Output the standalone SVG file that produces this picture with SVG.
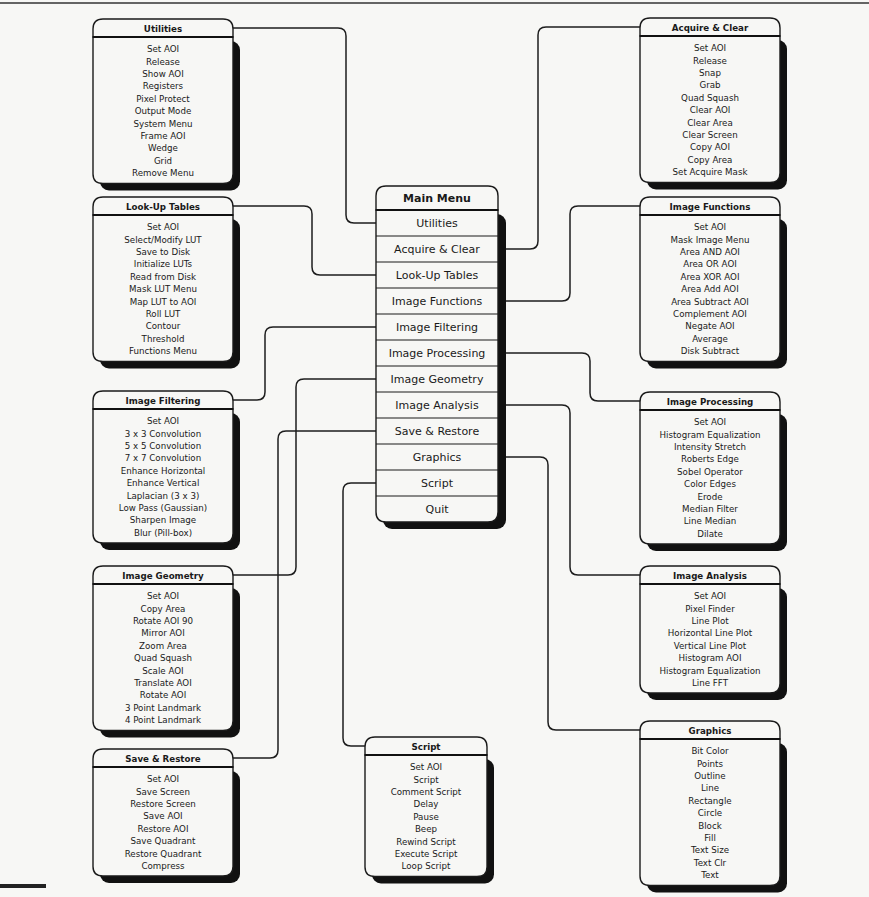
<svg xmlns="http://www.w3.org/2000/svg" width="869" height="897" viewBox="0 0 869 897">
<defs>
<style>
.bg{fill:#f7f7f5}
.box{fill:#f7f7f5;stroke:#1a1a1a;stroke-width:1.4}
.sh{fill:#111}
.sep{stroke:#111;stroke-width:2}
.row{stroke:#1a1a1a;stroke-width:1.2}
.c{fill:none;stroke:#1e1e1e;stroke-width:1.5}
text{font-family:"DejaVu Sans","Liberation Sans",Arial,sans-serif;font-size:8.7px;fill:#1a1a1a;text-anchor:middle}
.h{font-weight:bold;font-size:8.7px}
.m{font-size:11px}
.mh{font-size:11px;font-weight:bold}
</style>
</defs>
<rect class="bg" x="0" y="0" width="869" height="897"/>
<line x1="0" y1="3" x2="869" y2="3" stroke="#333" stroke-width="1.5"/>
<rect x="0" y="884" width="46" height="4" fill="#222"/>

<g id="connectors">
<path class="c" d="M233,28 H338 Q346,28 346,36 V215 Q346,223 354,223 H376"/>
<path class="c" d="M505,249 H530 Q538,249 538,241 V35 Q538,27 546,27 H640"/>
<path class="c" d="M233,206 H304 Q312,206 312,214 V267 Q312,275 320,275 H376"/>
<path class="c" d="M505,301 H562 Q570,301 570,293 V214 Q570,206 578,206 H640"/>
<path class="c" d="M233,400 H257 Q265,400 265,392 V335 Q265,327 273,327 H376"/>
<path class="c" d="M505,353 H582 Q590,353 590,361 V393 Q590,401 598,401 H640"/>
<path class="c" d="M376,379 H304 Q296,379 296,387 V567 Q296,575 288,575 H233"/>
<path class="c" d="M505,405 H562 Q570,405 570,413 V567 Q570,575 578,575 H640"/>
<path class="c" d="M376,431 H286 Q278,431 278,439 V750 Q278,758 270,758 H233"/>
<path class="c" d="M505,457 H540 Q548,457 548,465 V722 Q548,730 556,730 H640"/>
<path class="c" d="M376,483 H351 Q343,483 343,491 V738 Q343,746 351,746 H365"/>
</g>

<g id="main-menu">
<rect class="sh" x="383" y="214" width="123" height="315" rx="9"/>
<path class="box" d="M376,210 V196 Q376,186 386,186 H488 Q498,186 498,196 V210 Z"/>
<path class="box" d="M376,210 V512 Q376,522 386,522 H488 Q498,522 498,512 V210 Z"/>
<line class="sep" x1="376" y1="210" x2="498" y2="210"/>
<line class="row" x1="376" y1="236" x2="498" y2="236"/>
<line class="row" x1="376" y1="262" x2="498" y2="262"/>
<line class="row" x1="376" y1="288" x2="498" y2="288"/>
<line class="row" x1="376" y1="314" x2="498" y2="314"/>
<line class="row" x1="376" y1="340" x2="498" y2="340"/>
<line class="row" x1="376" y1="366" x2="498" y2="366"/>
<line class="row" x1="376" y1="392" x2="498" y2="392"/>
<line class="row" x1="376" y1="418" x2="498" y2="418"/>
<line class="row" x1="376" y1="444" x2="498" y2="444"/>
<line class="row" x1="376" y1="470" x2="498" y2="470"/>
<line class="row" x1="376" y1="496" x2="498" y2="496"/>
<text class="mh" x="437" y="202">Main Menu</text>
<text class="m" x="437" y="227">Utilities</text>
<text class="m" x="437" y="253">Acquire &amp; Clear</text>
<text class="m" x="437" y="279">Look-Up Tables</text>
<text class="m" x="437" y="305">Image Functions</text>
<text class="m" x="437" y="331">Image Filtering</text>
<text class="m" x="437" y="357">Image Processing</text>
<text class="m" x="437" y="383">Image Geometry</text>
<text class="m" x="437" y="409">Image Analysis</text>
<text class="m" x="437" y="435">Save &amp; Restore</text>
<text class="m" x="437" y="461">Graphics</text>
<text class="m" x="437" y="487">Script</text>
<text class="m" x="437" y="513">Quit</text>
</g>

<g id="utilities">
<rect class="sh" x="100" y="41" width="140" height="149.5" rx="9"/>
<path class="box" d="M93,37 V29 Q93,19 103,19 H223 Q233,19 233,29 V37 Z"/>
<path class="box" d="M93,37 V174 Q93,183.5 103,183.5 H223 Q233,183.5 233,174 V37 Z"/>
<line class="sep" x1="93" y1="37" x2="233" y2="37"/>
<text class="h" x="163" y="31.5">Utilities</text>
<text x="163" y="52.2">Set AOI</text>
<text x="163" y="64.6">Release</text>
<text x="163" y="77">Show AOI</text>
<text x="163" y="89.4">Registers</text>
<text x="163" y="101.8">Pixel Protect</text>
<text x="163" y="114.2">Output Mode</text>
<text x="163" y="126.6">System Menu</text>
<text x="163" y="139">Frame AOI</text>
<text x="163" y="151.4">Wedge</text>
<text x="163" y="163.8">Grid</text>
<text x="163" y="176.2">Remove Menu</text>
</g>

<g id="look-up-tables">
<rect class="sh" x="100" y="219" width="140" height="149.5" rx="9"/>
<path class="box" d="M93,215 V207 Q93,197 103,197 H223 Q233,197 233,207 V215 Z"/>
<path class="box" d="M93,215 V352 Q93,361.5 103,361.5 H223 Q233,361.5 233,352 V215 Z"/>
<line class="sep" x1="93" y1="215" x2="233" y2="215"/>
<text class="h" x="163" y="209.5">Look-Up Tables</text>
<text x="163" y="230.2">Set AOI</text>
<text x="163" y="242.6">Select/Modify LUT</text>
<text x="163" y="255">Save to Disk</text>
<text x="163" y="267.4">Initialize LUTs</text>
<text x="163" y="279.8">Read from Disk</text>
<text x="163" y="292.2">Mask LUT Menu</text>
<text x="163" y="304.6">Map LUT to AOI</text>
<text x="163" y="317">Roll LUT</text>
<text x="163" y="329.4">Contour</text>
<text x="163" y="341.8">Threshold</text>
<text x="163" y="354.2">Functions Menu</text>
</g>

<g id="image-filtering">
<rect class="sh" x="100" y="413" width="140" height="137" rx="9"/>
<path class="box" d="M93,409 V401 Q93,391 103,391 H223 Q233,391 233,401 V409 Z"/>
<path class="box" d="M93,409 V533.5 Q93,543 103,543 H223 Q233,543 233,533.5 V409 Z"/>
<line class="sep" x1="93" y1="409" x2="233" y2="409"/>
<text class="h" x="163" y="403.5">Image Filtering</text>
<text x="163" y="424.2">Set AOI</text>
<text x="163" y="436.6">3 x 3 Convolution</text>
<text x="163" y="449">5 x 5 Convolution</text>
<text x="163" y="461.4">7 x 7 Convolution</text>
<text x="163" y="473.8">Enhance Horizontal</text>
<text x="163" y="486.2">Enhance Vertical</text>
<text x="163" y="498.6">Laplacian (3 x 3)</text>
<text x="163" y="511">Low Pass (Gaussian)</text>
<text x="163" y="523.4">Sharpen Image</text>
<text x="163" y="535.8">Blur (Pill-box)</text>
</g>

<g id="image-geometry">
<rect class="sh" x="100" y="588" width="140" height="149.5" rx="9"/>
<path class="box" d="M93,584 V576 Q93,566 103,566 H223 Q233,566 233,576 V584 Z"/>
<path class="box" d="M93,584 V721 Q93,730.5 103,730.5 H223 Q233,730.5 233,721 V584 Z"/>
<line class="sep" x1="93" y1="584" x2="233" y2="584"/>
<text class="h" x="163" y="578.5">Image Geometry</text>
<text x="163" y="599.2">Set AOI</text>
<text x="163" y="611.6">Copy Area</text>
<text x="163" y="624">Rotate AOI 90</text>
<text x="163" y="636.4">Mirror AOI</text>
<text x="163" y="648.8">Zoom Area</text>
<text x="163" y="661.2">Quad Squash</text>
<text x="163" y="673.6">Scale AOI</text>
<text x="163" y="686">Translate AOI</text>
<text x="163" y="698.4">Rotate AOI</text>
<text x="163" y="710.8">3 Point Landmark</text>
<text x="163" y="723.2">4 Point Landmark</text>
</g>

<g id="save-restore">
<rect class="sh" x="100" y="771" width="140" height="112" rx="9"/>
<path class="box" d="M93,767 V759 Q93,749 103,749 H223 Q233,749 233,759 V767 Z"/>
<path class="box" d="M93,767 V866.5 Q93,876 103,876 H223 Q233,876 233,866.5 V767 Z"/>
<line class="sep" x1="93" y1="767" x2="233" y2="767"/>
<text class="h" x="163" y="761.5">Save &amp; Restore</text>
<text x="163" y="782.2">Set AOI</text>
<text x="163" y="794.6">Save Screen</text>
<text x="163" y="807">Restore Screen</text>
<text x="163" y="819.4">Save AOI</text>
<text x="163" y="831.8">Restore AOI</text>
<text x="163" y="844.2">Save Quadrant</text>
<text x="163" y="856.6">Restore Quadrant</text>
<text x="163" y="869">Compress</text>
</g>

<g id="acquire-clear">
<rect class="sh" x="647" y="40" width="140" height="149.5" rx="9"/>
<path class="box" d="M640,36 V28 Q640,18 650,18 H770 Q780,18 780,28 V36 Z"/>
<path class="box" d="M640,36 V173 Q640,182.5 650,182.5 H770 Q780,182.5 780,173 V36 Z"/>
<line class="sep" x1="640" y1="36" x2="780" y2="36"/>
<text class="h" x="710" y="30.5">Acquire &amp; Clear</text>
<text x="710" y="51.2">Set AOI</text>
<text x="710" y="63.6">Release</text>
<text x="710" y="76">Snap</text>
<text x="710" y="88.4">Grab</text>
<text x="710" y="100.8">Quad Squash</text>
<text x="710" y="113.2">Clear AOI</text>
<text x="710" y="125.6">Clear Area</text>
<text x="710" y="138">Clear Screen</text>
<text x="710" y="150.4">Copy AOI</text>
<text x="710" y="162.8">Copy Area</text>
<text x="710" y="175.2">Set Acquire Mask</text>
</g>

<g id="image-functions">
<rect class="sh" x="647" y="219" width="140" height="149.5" rx="9"/>
<path class="box" d="M640,215 V207 Q640,197 650,197 H770 Q780,197 780,207 V215 Z"/>
<path class="box" d="M640,215 V352 Q640,361.5 650,361.5 H770 Q780,361.5 780,352 V215 Z"/>
<line class="sep" x1="640" y1="215" x2="780" y2="215"/>
<text class="h" x="710" y="209.5">Image Functions</text>
<text x="710" y="230.2">Set AOI</text>
<text x="710" y="242.6">Mask Image Menu</text>
<text x="710" y="255">Area AND AOI</text>
<text x="710" y="267.4">Area OR AOI</text>
<text x="710" y="279.8">Area XOR AOI</text>
<text x="710" y="292.2">Area Add AOI</text>
<text x="710" y="304.6">Area Subtract AOI</text>
<text x="710" y="317">Complement AOI</text>
<text x="710" y="329.4">Negate AOI</text>
<text x="710" y="341.8">Average</text>
<text x="710" y="354.2">Disk Subtract</text>
</g>

<g id="image-processing">
<rect class="sh" x="647" y="414" width="140" height="137" rx="9"/>
<path class="box" d="M640,410 V402 Q640,392 650,392 H770 Q780,392 780,402 V410 Z"/>
<path class="box" d="M640,410 V534.5 Q640,544 650,544 H770 Q780,544 780,534.5 V410 Z"/>
<line class="sep" x1="640" y1="410" x2="780" y2="410"/>
<text class="h" x="710" y="404.5">Image Processing</text>
<text x="710" y="425.2">Set AOI</text>
<text x="710" y="437.6">Histogram Equalization</text>
<text x="710" y="450">Intensity Stretch</text>
<text x="710" y="462.4">Roberts Edge</text>
<text x="710" y="474.8">Sobel Operator</text>
<text x="710" y="487.2">Color Edges</text>
<text x="710" y="499.6">Erode</text>
<text x="710" y="512">Median Filter</text>
<text x="710" y="524.4">Line Median</text>
<text x="710" y="536.8">Dilate</text>
</g>

<g id="image-analysis">
<rect class="sh" x="647" y="588" width="140" height="112" rx="9"/>
<path class="box" d="M640,584 V576 Q640,566 650,566 H770 Q780,566 780,576 V584 Z"/>
<path class="box" d="M640,584 V683.5 Q640,693 650,693 H770 Q780,693 780,683.5 V584 Z"/>
<line class="sep" x1="640" y1="584" x2="780" y2="584"/>
<text class="h" x="710" y="578.5">Image Analysis</text>
<text x="710" y="599.2">Set AOI</text>
<text x="710" y="611.6">Pixel Finder</text>
<text x="710" y="624">Line Plot</text>
<text x="710" y="636.4">Horizontal Line Plot</text>
<text x="710" y="648.8">Vertical Line Plot</text>
<text x="710" y="661.2">Histogram AOI</text>
<text x="710" y="673.6">Histogram Equalization</text>
<text x="710" y="686">Line FFT</text>
</g>

<g id="graphics">
<rect class="sh" x="647" y="743" width="140" height="149.5" rx="9"/>
<path class="box" d="M640,739 V731 Q640,721 650,721 H770 Q780,721 780,731 V739 Z"/>
<path class="box" d="M640,739 V876 Q640,885.5 650,885.5 H770 Q780,885.5 780,876 V739 Z"/>
<line class="sep" x1="640" y1="739" x2="780" y2="739"/>
<text class="h" x="710" y="733.5">Graphics</text>
<text x="710" y="754.2">Bit Color</text>
<text x="710" y="766.6">Points</text>
<text x="710" y="779">Outline</text>
<text x="710" y="791.4">Line</text>
<text x="710" y="803.8">Rectangle</text>
<text x="710" y="816.2">Circle</text>
<text x="710" y="828.6">Block</text>
<text x="710" y="841">Fill</text>
<text x="710" y="853.4">Text Size</text>
<text x="710" y="865.8">Text Clr</text>
<text x="710" y="878.2">Text</text>
</g>

<g id="script">
<rect class="sh" x="372" y="759" width="122" height="124.5" rx="9"/>
<path class="box" d="M365,755 V747 Q365,737 375,737 H477 Q487,737 487,747 V755 Z"/>
<path class="box" d="M365,755 V867 Q365,876.5 375,876.5 H477 Q487,876.5 487,867 V755 Z"/>
<line class="sep" x1="365" y1="755" x2="487" y2="755"/>
<text class="h" x="426" y="749.5">Script</text>
<text x="426" y="770.2">Set AOI</text>
<text x="426" y="782.6">Script</text>
<text x="426" y="795">Comment Script</text>
<text x="426" y="807.4">Delay</text>
<text x="426" y="819.8">Pause</text>
<text x="426" y="832.2">Beep</text>
<text x="426" y="844.6">Rewind Script</text>
<text x="426" y="857">Execute Script</text>
<text x="426" y="869.4">Loop Script</text>
</g>
</svg>
